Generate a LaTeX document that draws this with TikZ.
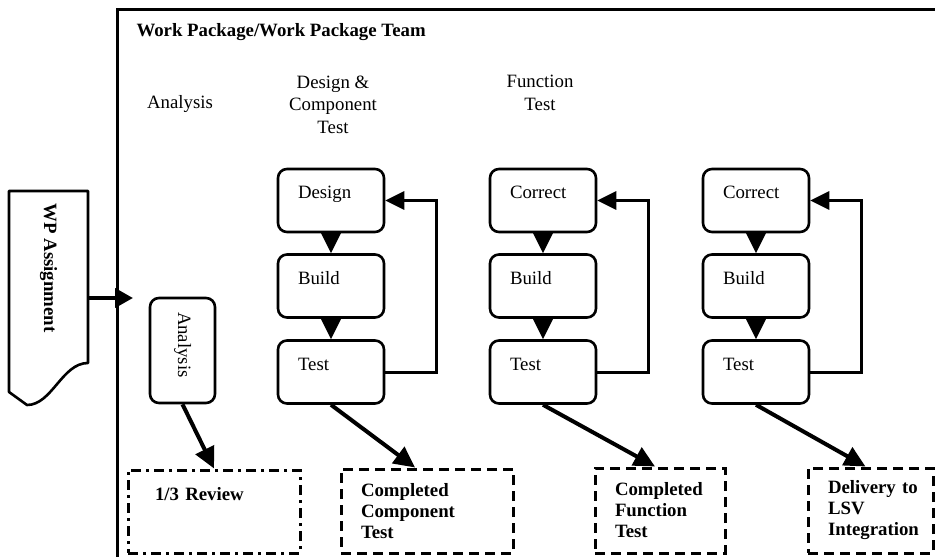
\documentclass[tikz,border=0pt]{standalone}
\usepackage{fontspec}
\setmainfont{Liberation Serif}
\usetikzlibrary{arrows.meta}
\hyphenpenalty=10000
\exhyphenpenalty=10000
\hbadness=10000
\hfuzz=60pt
\begin{document}
\begin{tikzpicture}[x=1pt,y=-1pt,
  every node/.style={font=\fontsize{18.8}{21.5}\selectfont},
  stepbox/.style={draw,line width=2.6pt,rounded corners=9pt,minimum height=63pt,
    text width=66pt,inner xsep=20pt,inner ysep=0pt,align=left,
    text height=12pt,text depth=16pt},
  outbox/.style={draw,line width=3pt,dash pattern=on 10pt off 6pt,
    inner xsep=20pt,inner ysep=0pt,align=left,
    font=\fontsize{18.8}{21}\selectfont\bfseries},
  rvbox/.style={draw,line width=3pt,dash pattern=on 10pt off 5pt on 3pt off 5pt,
    inner xsep=27pt,inner ysep=0pt,align=left,
    font=\fontsize{18.8}{21}\selectfont\bfseries},
  header/.style={align=center,font=\fontsize{18.8}{22.5}\selectfont},
  varrow/.style={line width=3pt,-{Triangle[length=20pt,width=19pt]}},
  fbarrow/.style={line width=3pt,-{Triangle[length=19pt,width=18pt]}},
  darrow/.style={line width=4pt,-{Triangle[length=21pt,width=20pt]}},
]
\useasboundingbox (0,0) rectangle (935,557);

% outer frame
\draw[line width=3pt] (935,9) -- (117,9) -- (117,557);

% headers
\node[anchor=west,font=\fontsize{18.8}{21}\selectfont\bfseries] (title) at (133,32) {Work Package/Work Package Team};
\node[header] (hA) at (180,104) {Analysis};
\node[header] (hD) at (333,104.5) {Design \&\\Component\\Test};
\node[header] (hF) at (540,93) {Function\\Test};

% WP Assignment document shape
\draw[line width=2.6pt,line join=round] (9,191) -- (88,191) -- (88,363)
  .. controls (62,363) and (52,405) .. (27,405) -- (9,392) -- cycle;
\node[minimum width=79pt,minimum height=154pt,inner sep=0pt] (wp) at (48.5,268)
  {\rotatebox{-90}{\bfseries WP Assignment}};
\coordinate (entry) at (133,298);
\draw[line width=4pt,-{Triangle[length=18pt,width=19pt]}] (wp.east |- entry) -- (entry);

% Analysis box
\node[draw,line width=2.6pt,rounded corners=9pt,rotate=-90,minimum height=65pt,
  text width=77pt,inner xsep=14pt,inner ysep=0pt,align=left] (an) at (182.5,350.5) {Analysis};

% columns
\node[stepbox] (d1) at (331,200.5) {Design};
\node[stepbox] (b1) at (331,286) {Build};
\node[stepbox] (t1) at (331,372) {Test};
\node[stepbox] (d2) at (543,200.5) {Correct};
\node[stepbox] (b2) at (543,286) {Build};
\node[stepbox] (t2) at (543,372) {Test};
\node[stepbox] (d3) at (756,200.5) {Correct};
\node[stepbox] (b3) at (756,286) {Build};
\node[stepbox] (t3) at (756,372) {Test};

\foreach \i in {1,2,3}{
  \draw[varrow] (d\i.south) -- (b\i.north);
  \draw[varrow] (b\i.south) -- (t\i.north);
  \draw[fbarrow] (t\i.east) -- ++(51,0) |- (d\i.east);
}

% output boxes
\node[rvbox,minimum width=172pt,minimum height=83pt,text width=118pt,
  text height=13pt,text depth=36pt] (rv) at (214,511.5) {1/3 Review};
\node[outbox,minimum width=172pt,minimum height=84pt,text width=132pt] (cc) at (427,511) {Completed\\Component\\Test};
\node[outbox,minimum width=130pt,minimum height=85pt,text width=90pt] (cf) at (660,510.5) {Completed\\Function\\Test};
\node[outbox,minimum width=125pt,minimum height=85pt,text width=85pt] (dl) at (870.5,510.5) {Delivery~to\\LSV\\Integration};

% connectors to outputs
\draw[darrow] (an.east) -- (rv.north);
\draw[darrow] (t1.south) -- ([xshift=-12pt]cc.north);
\draw[darrow] (t2.south) -- ([xshift=-5pt]cf.north);
\draw[darrow] (t3.south) -- ([xshift=-5pt]dl.north);
\end{tikzpicture}
\end{document}
